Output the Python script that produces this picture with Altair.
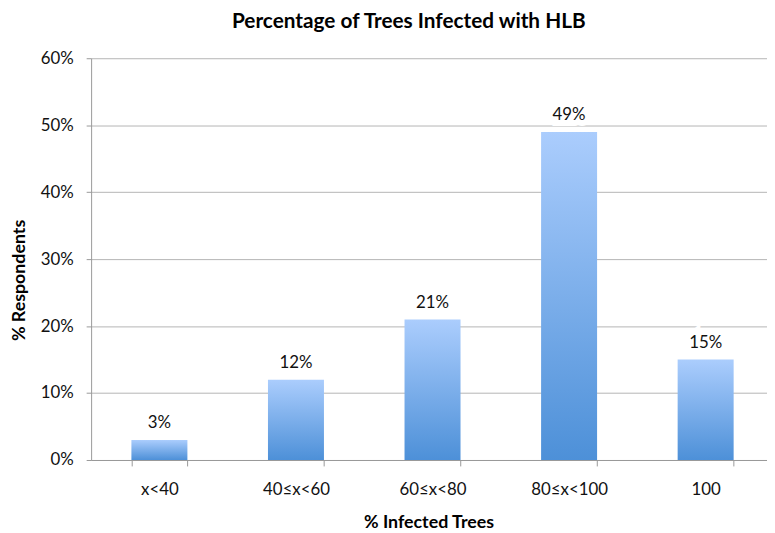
import altair as alt
import pandas as pd

categories = ["x<40", "40≤x<60", "60≤x<80", "80≤x<100", "100"]
values = [0.03, 0.12, 0.21, 0.49, 0.15]
labels = ["3%", "12%", "21%", "49%", "15%"]

df = pd.DataFrame({"cat": categories, "val": values, "lab": labels})

FONT = "Lato, DejaVu Sans"

x = alt.X("cat:N", sort=categories,
          scale=alt.Scale(paddingInner=0.59, paddingOuter=0.295),
          axis=alt.Axis(title="% Infected Trees", labelAngle=0, tickBand="extent",
                        labelPadding=16, titlePadding=16, tickSize=6, titleX=341))
y = alt.Y("val:Q", scale=alt.Scale(domain=[0, 0.6]),
          axis=alt.Axis(title="% Respondents", format=".0%", values=[0, .1, .2, .3, .4, .5, .6],
                        tickSize=5, labelPadding=13, titlePadding=12, titleY=224))

grad = alt.Gradient(gradient="linear",
                    stops=[alt.GradientStop(color="#abcdfd", offset=0),
                           alt.GradientStop(color="#4d90d8", offset=1)],
                    x1=0, x2=0, y1=0, y2=1)

bars = alt.Chart(df).mark_bar(color=grad).encode(x=x, y=y)
halo = alt.Chart(df).mark_text(baseline="middle", dy=-17, fontSize=17, font=FONT,
                               stroke="white", strokeWidth=12, color="white").encode(x=x, y=y, text="lab:N")
txt = alt.Chart(df).mark_text(baseline="middle", dy=-17, fontSize=17, font=FONT,
                              color="#111111").encode(x=x, y=y, text="lab:N")

chart = alt.layer(bars, halo, txt).properties(
    width=690, height=406,
    autosize=alt.AutoSizeParams(type="none"),
    padding={"left": 84, "top": 48, "right": -7, "bottom": 70},
    title=alt.TitleParams("Percentage of Trees Infected with HLB", font=FONT, fontSize=21,
                          fontWeight="bold", color="#000000", anchor="middle", dx=-24, offset=18),
).configure_view(stroke=None).configure_axis(
    labelFont=FONT, labelFontSize=17, labelColor="#111111",
    titleFont=FONT, titleFontSize=18, titleFontWeight="bold", titleColor="#000000",
    gridColor="#b4b4b4", domainColor="#999999", tickColor="#999999",
).configure_axisX(grid=False).configure_axisY(grid=True)

chart.save("out.html", embed_options={"renderer": "svg", "actions": False})
